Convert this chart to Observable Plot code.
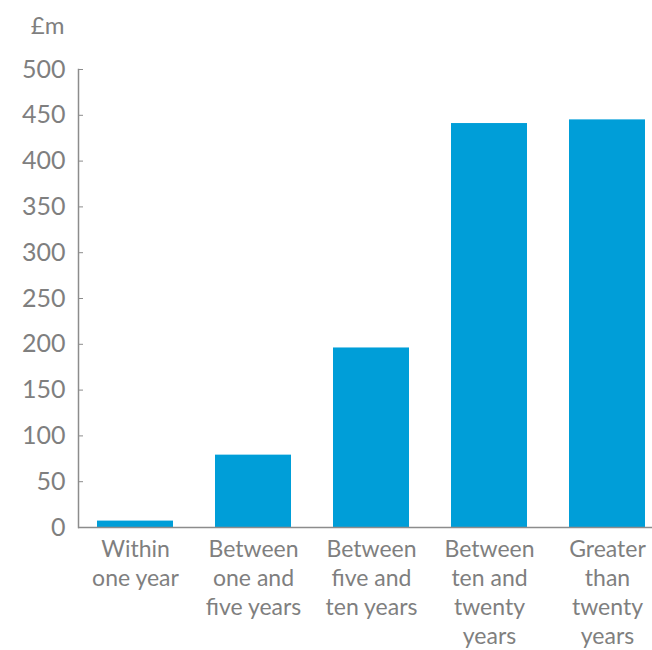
<!DOCTYPE html>
<html>
<head>
<meta charset="utf-8">
<script src="https://cdn.jsdelivr.net/npm/d3@7"></script>
<script src="https://cdn.jsdelivr.net/npm/@observablehq/plot@0.6"></script>
<style>
  html, body { margin: 0; padding: 0; background: #fff; }
  #chart svg { display: block; }
</style>
</head>
<body>
<div id="chart"></div>
<script>
const categories = [
  "Within\none year",
  "Between\none and\nfive years",
  "Between\nfive and\nten years",
  "Between\nten and\ntwenty\nyears",
  "Greater\nthan\ntwenty\nyears"
];
const values = [7, 79, 196, 441, 445];
const yTicks = [0, 50, 100, 150, 200, 250, 300, 350, 400, 450, 500];
const unitLabel = "£m";

const data = categories.map((c, i) => ({category: c, value: values[i]}));

const grey = "#7f7f7f";
const axisGrey = "#8c8c8c";
const blue = "#009ed8";

const chart = Plot.plot({
  width: 652,
  height: 650,
  marginTop: 69,
  marginBottom: 123,
  marginLeft: 78,
  marginRight: 0,
  style: {fontFamily: "Lato, sans-serif", color: grey, background: "#fff"},
  x: {domain: categories, paddingInner: 0.36, paddingOuter: 0.1, align: 0.7, label: null},
  y: {domain: [0, 500], label: null},
  marks: [
    Plot.barY(data, {x: "category", y: "value", fill: blue}),
    Plot.frame({anchor: "left", stroke: axisGrey, strokeWidth: 1.5}),
    Plot.ruleY([0], {stroke: axisGrey, strokeWidth: 1.5}),
    Plot.axisY({ticks: yTicks, tickSize: -5, tickPadding: 18, fontSize: 25, stroke: axisGrey, fill: grey, tickFormat: d => String(d)}),
    Plot.axisX({tickSize: 0, tickPadding: 9, fontSize: 23, lineHeight: 1.26, fill: grey, lineAnchor: "top"}),
    Plot.text([unitLabel], {frameAnchor: "top-left", text: d => d, dx: -14, dy: -43, textAnchor: "end", lineAnchor: "middle", fontSize: 24, fill: grey})
  ]
});
document.getElementById("chart").appendChild(chart);
</script>
</body>
</html>
